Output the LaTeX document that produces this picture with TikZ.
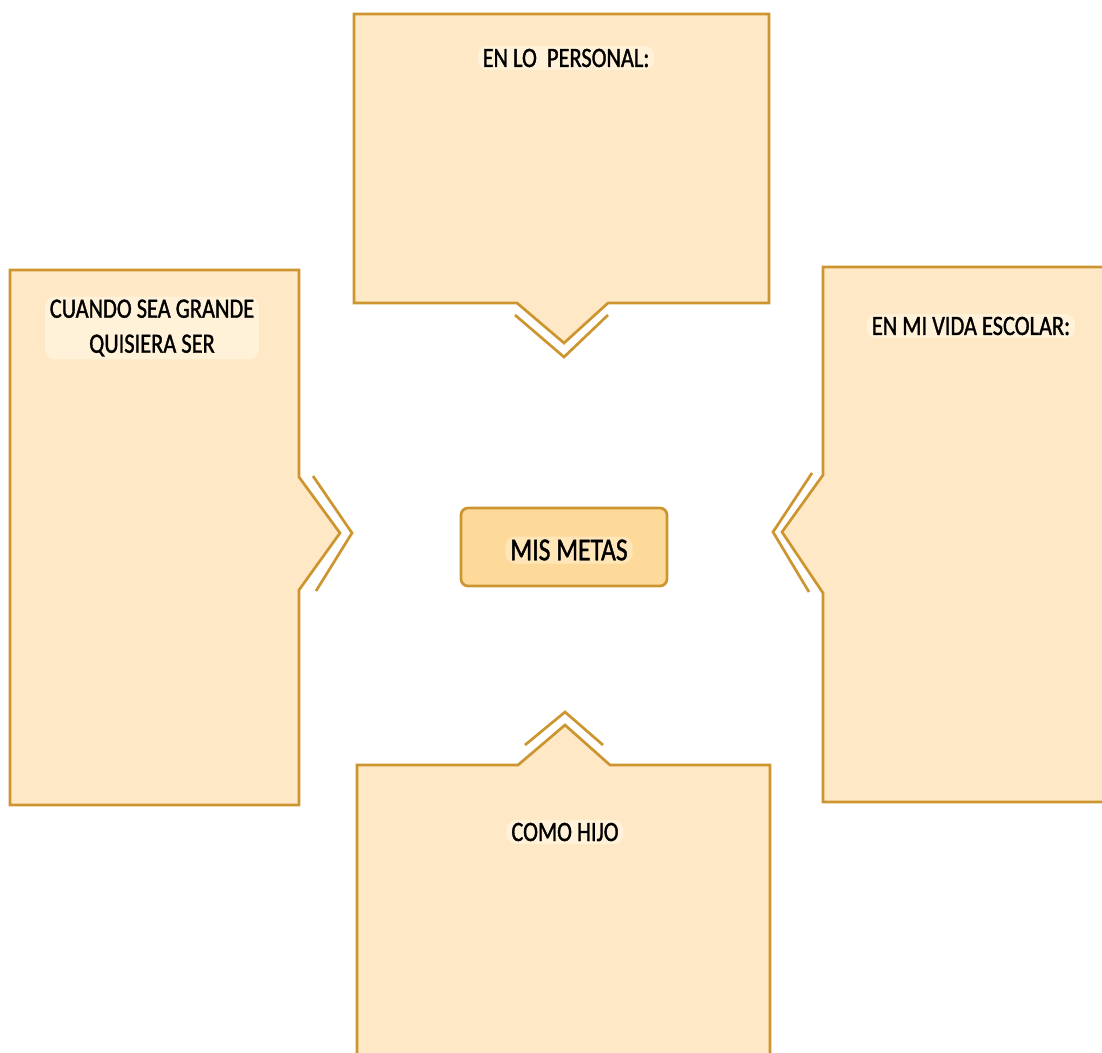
\documentclass[tikz,border=0pt]{standalone}
\usepackage{fontspec}
\setmainfont[FakeStretch=0.8,FakeBold=1.2]{Carlito}
\definecolor{peach}{HTML}{FEE8C5}
\definecolor{gold}{HTML}{CD9530}
\definecolor{centerfill}{HTML}{FDD99A}
\definecolor{glow}{HTML}{FFF2D8}
\begin{document}
\begin{tikzpicture}[x=1pt,y=-1pt,
  panel/.style={fill=peach,draw=gold,line width=2.7pt,line join=miter},
  chev/.style={draw=gold,line width=2.7pt},
  lbl/.style={font=\fontsize{28}{35}\selectfont,text=black,align=center,
    fill=glow,rounded corners=10pt,inner xsep=5pt,inner ysep=3pt}]
\clip (0,0) rectangle (1102,1052);
\useasboundingbox (0,0) rectangle (1102,1052);
% top panel
\draw[panel] (354,14) -- (769,14) -- (769,303) -- (608,303) -- (564,343) -- (517,303) -- (354,303) -- cycle;
\draw[chev] (515,315) -- (564,357) -- (608,315);
% left panel
\draw[panel] (10,270) -- (299,270) -- (299,477) -- (340,533) -- (299,590) -- (299,805) -- (10,805) -- cycle;
\draw[chev] (313,476) -- (352,533) -- (316,591);
% right panel
\draw[panel] (823,267) -- (1115,267) -- (1115,802) -- (823,802) -- (823,593) -- (782,532) -- (823,475) -- cycle;
\draw[chev] (812,473) -- (773,532) -- (809,592);
% bottom panel
\draw[panel] (357,765) -- (518,765) -- (565,725) -- (610,765) -- (770,765) -- (770,1070) -- (357,1070) -- cycle;
\draw[chev] (525,745) -- (565,712) -- (603,745);
% center
\node[draw=gold,fill=centerfill,line width=2.7pt,rounded corners=7pt,minimum width=206pt,minimum height=78pt,inner sep=0pt] (metas) at (564,547) {};
\node[lbl,font=\fontsize{32}{38}\selectfont,fill=centerfill!50!glow] (metastxt) at (569,550) {MIS METAS};
% labels
\node[lbl] (personal) at (566,58) {EN LO\ \ PERSONAL:};
\node[lbl] (grande) at (152,328) {CUANDO SEA GRANDE\\QUISIERA SER};
\node[lbl] (escolar) at (971,326) {EN MI VIDA ESCOLAR:};
\node[lbl] (hijo) at (565,832) {COMO HIJO};
\end{tikzpicture}
\end{document}
